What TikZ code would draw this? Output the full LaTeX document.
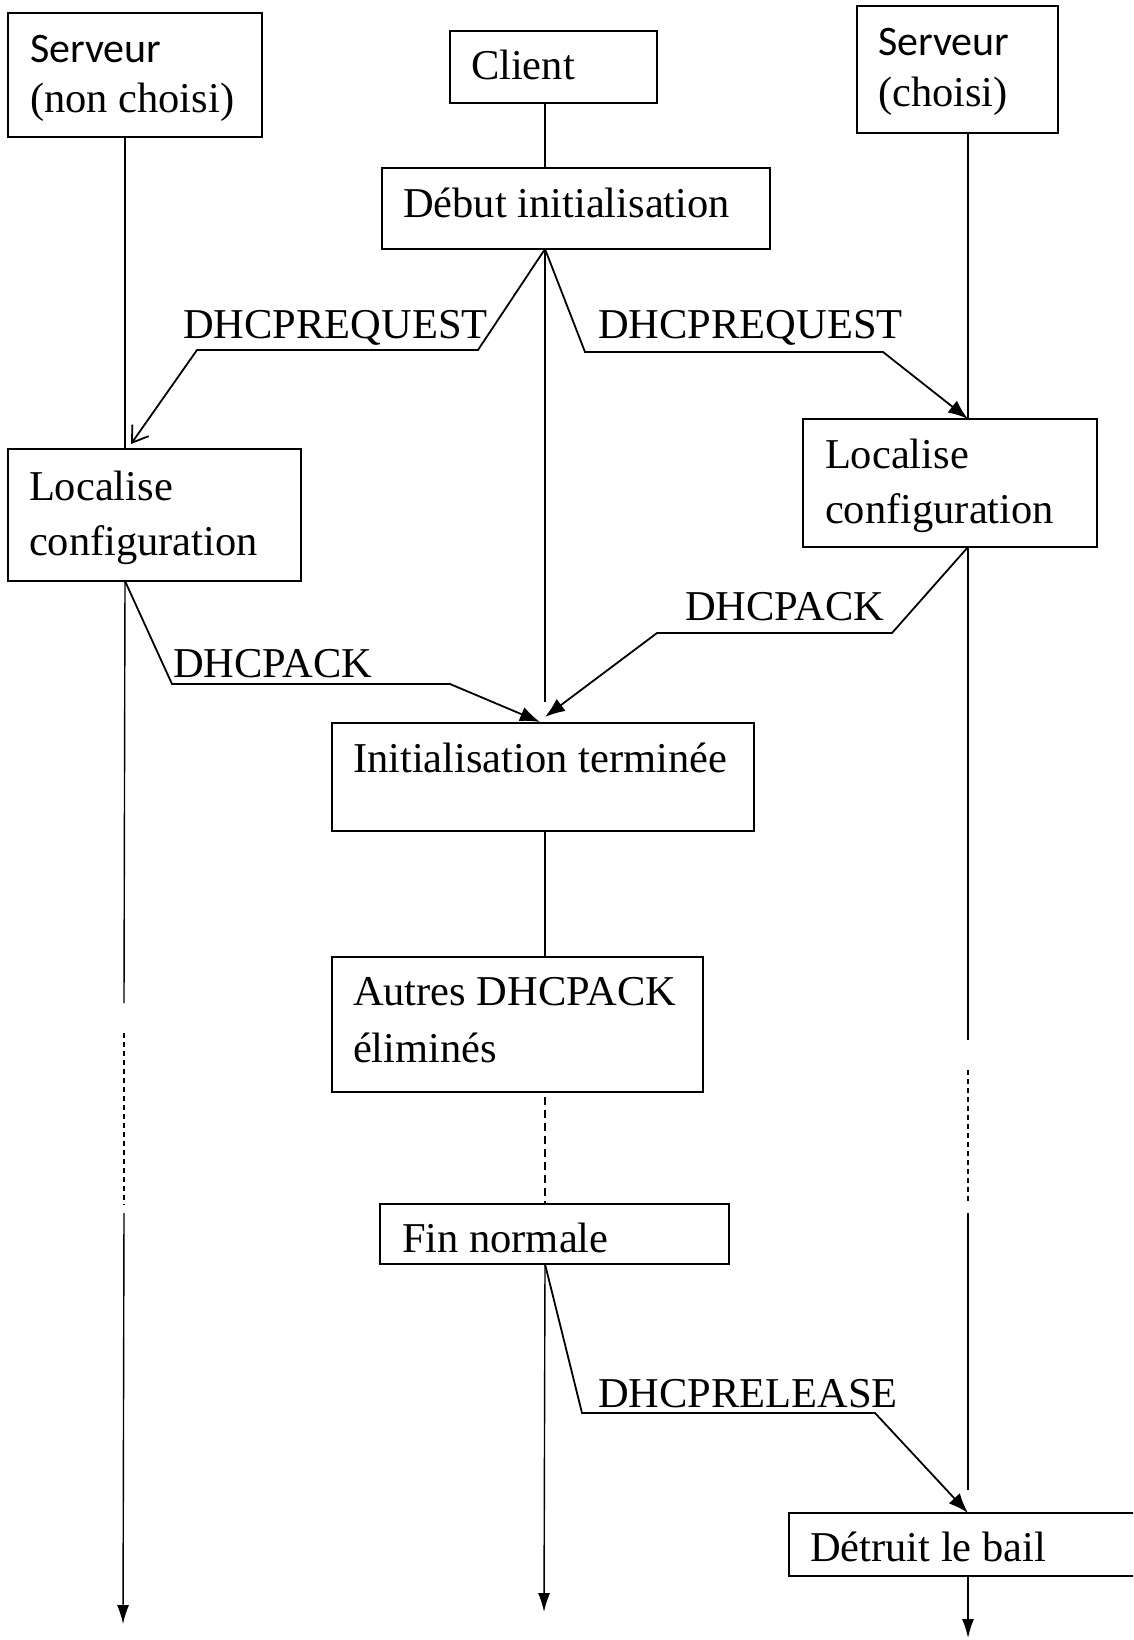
\documentclass[tikz,border=0pt]{standalone}
\usepackage{fontspec}
\setmainfont{Liberation Serif}
\newfontfamily\calibri{Carlito}
\usetikzlibrary{arrows.meta,calc}

\begin{document}
\begin{tikzpicture}[x=1pt,y=-1pt,
  box/.style={draw, line width=1.6pt, anchor=north west, inner sep=0pt, outer sep=0pt},
  lbl/.style={anchor=base west, inner sep=0pt, outer sep=0pt, font=\fontsize{42.5}{50}\selectfont},
  srv/.style={anchor=base west, inner sep=0pt, outer sep=0pt, font=\calibri\fontsize{42}{50}\selectfont},
  life/.style={line width=1.4pt},
  lifedash/.style={line width=1.4pt, dash pattern=on 5pt off 4pt},
  msg/.style={line width=1.8pt, line join=miter},
  tipfill/.style={-{Latex[length=20pt,width=15pt]}},
  tipopen/.style={-{Straight Barb[length=15pt,width=20pt,line width=1.8pt]}},
  endtip/.style={-{Latex[length=19pt,width=12pt]}}]

\useasboundingbox (0,0) rectangle (1133,1640);
\clip (0,0) rectangle (1133,1640);

% lifeline abscissae
\coordinate (xL) at (125,0);
\coordinate (xC) at (545,0);
\coordinate (xR) at (968,0);

% boxes
\node[box, minimum width=254pt, minimum height=124pt] (snc) at (8,13) {};
\node[box, minimum width=207pt, minimum height=72pt] (cli) at (450,31) {};
\node[box, minimum width=201pt, minimum height=127pt] (sc) at (857,6) {};
\node[box, minimum width=388pt, minimum height=81pt] (deb) at (382,168) {};
\node[box, minimum width=293pt, minimum height=132pt] (locL) at (8,449) {};
\node[box, minimum width=294pt, minimum height=128pt] (locR) at (803,419) {};
\node[box, minimum width=422pt, minimum height=108pt] (init) at (332,723) {};
\node[box, minimum width=371pt, minimum height=135pt] (autres) at (332,957) {};
\node[box, minimum width=349pt, minimum height=60pt] (fin) at (380,1204) {};
\node[box, minimum width=380pt, minimum height=63pt] (detr) at (789,1513) {};

% box texts
\node[srv] (sncA) at (30,63) {Serveur};
\node[lbl] (sncB) at (30,113) {(non choisi)};
\node[lbl] (cliA) at (471,80) {Client};
\node[srv] (scA) at (878,56) {Serveur};
\node[lbl] (scB) at (878,107) {(choisi)};
\node[lbl] (debA) at (403,217) {Début initialisation};
\node[lbl] (locLA) at (29,500) {Localise};
\node[lbl] (locLB) at (29,555) {configuration};
\node[lbl] (locRA) at (825,468) {Localise};
\node[lbl] (locRB) at (825,523) {configuration};
\node[lbl] (initA) at (353,772) {Initialisation terminée};
\node[lbl] (autresA) at (353,1005) {Autres DHCPACK};
\node[lbl] (autresB) at (353,1062) {éliminés};
\node[lbl] (finA) at (402,1252) {Fin normale};
\node[lbl] (detrA) at (810,1561) {Détruit le bail};

% left lifeline (server not chosen)
\coordinate (lA) at (124,1003);
\coordinate (lB) at (124,1033);
\coordinate (lC) at (124,1205);
\coordinate (lD) at (124,1213);
\coordinate (lE) at (123,1624);
\draw[life] (snc.south -| xL) -- (locL.north -| xL);
\draw[life] (locL.south -| xL) -- (lA);
\draw[lifedash] (lB) -- (lC);
\draw[life, endtip] (lD) -- (lE);

% client lifeline
\coordinate (cA) at (545,702);
\coordinate (cE) at (544,1612);
\draw[life] (cli.south -| xC) -- (deb.north -| xC);
\draw[life] (deb.south -| xC) -- (cA);
\draw[life] (init.south -| xC) -- (autres.north -| xC);
\draw[life, dash pattern=on 8pt off 5pt, shorten <=5pt] (autres.south -| xC) -- (fin.north -| xC);
\draw[life, endtip] (fin.south -| xC) -- (cE);

% right lifeline (chosen server)
\coordinate (rA) at (968,1040);
\coordinate (rB) at (968,1070);
\coordinate (rC) at (968,1202);
\coordinate (rD) at (968,1213);
\coordinate (rE) at (968,1490);
\coordinate (rF) at (968,1638);
\draw[life] (sc.south -| xR) -- (locR.north -| xR);
\draw[life] (locR.south -| xR) -- (rA);
\draw[lifedash] (rB) -- (rC);
\draw[life] (rD) -- (rE);
\draw[life, endtip] (detr.south -| xR) -- (rF);

% messages
\draw[msg, tipopen] (deb.south -| xC) -- (478,350) -- (197,350) -- ($(locL.north -| xL)+(6,-5)$);
\draw[msg, tipfill] (deb.south -| xC) -- (585,352) -- (883,352) -- (locR.north -| xR);
\draw[msg, tipfill] (locL.south -| xL) -- (172,684) -- (450,684) -- ($(init.north -| xC)+(-5,-1)$);
\draw[msg, tipfill] (locR.south -| xR) -- (892,633) -- (657,633) -- ($(init.north -| xC)+(0,-6)$);
\draw[msg, tipfill] (fin.south -| xC) -- (582,1413) -- (875,1413) -- (detr.north -| xR);

% message labels
\node[lbl] (reqL) at (183,338) {DHCPREQUEST};
\node[lbl] (reqR) at (598,338) {DHCPREQUEST};
\node[lbl] (ackL) at (173,677) {DHCPACK};
\node[lbl] (ackR) at (685,620) {DHCPACK};
\node[lbl] (rel) at (598,1407) {DHCPRELEASE};
\end{tikzpicture}
\end{document}
